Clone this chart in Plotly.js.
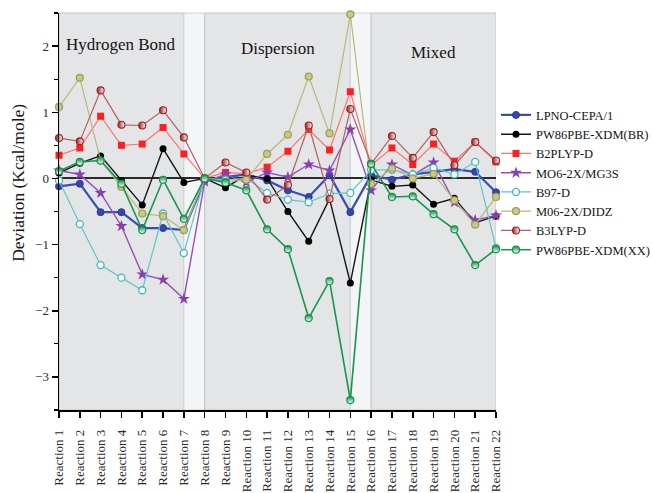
<!DOCTYPE html>
<html>
<head>
<meta charset="utf-8">
<script src="https://cdn.plot.ly/plotly-3.0.1.min.js"></script>
<style>
  html, body { margin: 0; padding: 0; background: #ffffff; }
  #chart { width: 653px; height: 493px; }
</style>
</head>
<body>
<div id="chart"></div>
<script>
// Reaction labels along the x axis
const reactions = [
  'Reaction 1', 'Reaction 2', 'Reaction 3', 'Reaction 4', 'Reaction 5', 'Reaction 6',
  'Reaction 7', 'Reaction 8', 'Reaction 9', 'Reaction 10', 'Reaction 11', 'Reaction 12',
  'Reaction 13', 'Reaction 14', 'Reaction 15', 'Reaction 16', 'Reaction 17', 'Reaction 18',
  'Reaction 19', 'Reaction 20', 'Reaction 21', 'Reaction 22'
];

// Deviations (kcal/mol) for each method
const lpnoCepa = [-0.12, -0.08, -0.51, -0.51, -0.75, -0.75, -0.78, -0.03, 0.02, 0.06, -0.03,
  -0.18, -0.28, 0.05, -0.51, 0.05, -0.02, 0.06, 0.10, 0.14, 0.10, -0.21];
const pw86Br = [0.08, 0.23, 0.34, -0.03, -0.40, 0.45, -0.06, 0.00, -0.14, 0.05, 0.00,
  -0.50, -0.95, -0.31, -1.58, -0.02, -0.12, -0.10, -0.39, -0.30, -0.67, -0.57];
const b2plypD = [0.35, 0.46, 0.94, 0.50, 0.52, 0.77, 0.37, 0.00, 0.09, 0.07, 0.17,
  0.41, 0.74, 0.43, 1.31, 0.20, 0.46, 0.21, 0.52, 0.26, 0.55, 0.25];
const m062xMg3s = [0.12, 0.06, -0.22, -0.72, -1.45, -1.53, -1.82, -0.05, 0.06, -0.06, 0.09,
  0.02, 0.21, 0.12, 0.74, -0.18, 0.21, 0.05, 0.24, -0.36, -0.63, -0.56];
const b97D = [-0.03, -0.69, -1.31, -1.50, -1.69, -0.53, -1.13, 0.00, -0.02, 0.00, -0.22,
  -0.32, -0.36, -0.23, -0.22, 0.13, 0.13, 0.06, 0.16, 0.06, 0.25, -1.05];
const m062xDidz = [1.08, 1.52, 0.27, -0.13, -0.53, -0.57, -0.78, 0.00, -0.05, -0.02, 0.37,
  0.66, 1.54, 0.68, 2.48, -0.08, 0.15, 0.00, 0.07, -0.33, -0.70, -0.28];
const b3lypD = [0.61, 0.56, 1.33, 0.81, 0.80, 1.03, 0.62, 0.00, 0.24, 0.09, -0.32,
  -0.10, 0.80, -0.31, 1.05, 0.22, 0.64, 0.31, 0.70, 0.20, 0.55, 0.27];
const pw86Xx = [0.11, 0.25, 0.27, -0.08, -0.78, -0.02, -0.61, 0.00, -0.06, -0.18, -0.77,
  -1.07, -2.11, -1.55, -3.35, 0.22, -0.28, -0.27, -0.54, -0.77, -1.31, -1.07];

// Interaction groups: name, first and last reaction
const groupNames = ['Hydrogen Bond', 'Dispersion', 'Mixed'];
const groupFirst = ['Reaction 1', 'Reaction 8', 'Reaction 16'];
const groupLast = ['Reaction 7', 'Reaction 15', 'Reaction 22'];

const serif = '"Liberation Serif", "Times New Roman", serif';

function series(name, y, color, lineColor, lineWidth, marker) {
  return {
    type: 'scatter', mode: 'lines+markers', name: name,
    x: reactions, y: y, cliponaxis: false,
    line: { color: lineColor || color, width: lineWidth },
    marker: Object.assign({ color: color, size: 7 }, marker || {})
  };
}

const traces = [
  series('LPNO-CEPA/1', lpnoCepa, '#3446b2', '#3a4db8', 2.2,
    { symbol: 'circle', size: 7, line: { color: '#2a3a9a', width: 1 } }),
  series('PW86PBE-XDM(BR)', pw86Br, '#000000', '#151515', 1.4,
    { symbol: 'circle', size: 7 }),
  series('B2PLYP-D', b2plypD, '#ff1f1f', '#ff7272', 1.2,
    { symbol: 'square', size: 7 }),
  series('MO6-2X/MG3S', m062xMg3s, '#8a3fb0', '#9550b8', 1.4,
    { symbol: 'star', size: 9 }),
  series('B97-D', b97D, '#ffffff', '#5ec6cc', 1.2,
    { symbol: 'circle', size: 7, line: { color: '#3fb8be', width: 1.3 } }),
  series('M06-2X/DIDZ', m062xDidz, '#c8c888', '#b9b978', 1.2,
    { symbol: 'circle', size: 7, line: { color: '#9c9c52', width: 1.2 } }),
  series('B3LYP-D', b3lypD, '#9a1f1f', '#b56060', 1.2,
    { symbol: 'circle', size: 7, gradient: { type: 'horizontal', color: '#ffffff' },
      line: { color: '#9a1f1f', width: 1.1 } }),
  series('PW86PBE-XDM(XX)', pw86Xx, '#14904a', '#17964e', 1.6,
    { symbol: 'circle', size: 7, gradient: { type: 'vertical', color: '#ffffff' },
      line: { color: '#14904a', width: 1.2 } })
];

// Shaded group boxes and the light strips between them
const shapes = [];
const annotations = [];
const labelY = [2.02, 1.97, 1.91];
groupNames.forEach(function (g, i) {
  const a = reactions.indexOf(groupFirst[i]);
  const b = reactions.indexOf(groupLast[i]);
  shapes.push({
    type: 'rect', xref: 'x', yref: 'paper', x0: a, x1: b, y0: 0, y1: 1,
    fillcolor: '#e3e5e6', line: { color: '#c3c5c6', width: 1 }, layer: 'below'
  });
  if (i < groupNames.length - 1) {
    const c = reactions.indexOf(groupFirst[i + 1]);
    shapes.push({
      type: 'rect', xref: 'x', yref: 'paper', x0: b, x1: c, y0: 0, y1: 1,
      fillcolor: '#f4f5f6', line: { color: '#d0d2d3', width: 1 }, layer: 'below'
    });
  }
  annotations.push({
    xref: 'x', yref: 'y', x: (a + b) / 2, y: labelY[i], text: g, showarrow: false,
    font: { family: serif, size: 17, color: '#141414' }
  });
});

// Vertical axis title, set a little above the middle of the axis
annotations.push({
  xref: 'paper', yref: 'paper', x: -0.094, y: 0.572, xanchor: 'center', yanchor: 'middle',
  text: 'Deviation (Kcal/mole)', textangle: -90, showarrow: false,
  font: { family: serif, size: 17.5, color: '#141414' }
});

const layout = {
  width: 653, height: 493,
  margin: { l: 59, r: 157, t: 13, b: 83, autoexpand: false },
  paper_bgcolor: '#ffffff', plot_bgcolor: '#ffffff',
  showlegend: true,
  legend: {
    x: 1.0, xanchor: 'left', y: 0.78, yanchor: 'top',
    bgcolor: 'rgba(0,0,0,0)', borderwidth: 0,
    font: { family: serif, size: 12.5, color: '#141414' },
    tracegroupgap: 0
  },
  xaxis: {
    type: 'category', range: [0, reactions.length - 1],
    showgrid: false, zeroline: false,
    showline: true, linecolor: '#000000', linewidth: 1.5,
    ticks: 'outside', ticklen: 6, tickwidth: 1.5, tickcolor: '#000000',
    dtick: 1, tickangle: -90, ticklabelstandoff: 7,
    tickfont: { family: serif, size: 13, color: '#2a2a2a' }
  },
  yaxis: {
    range: [-3.5, 2.5], dtick: 1, tick0: 0,
    showgrid: false,
    zeroline: true, zerolinecolor: '#2a2a2a', zerolinewidth: 2,
    showline: true, linecolor: '#000000', linewidth: 1.5,
    ticks: 'outside', ticklen: 6, tickwidth: 1.5, tickcolor: '#000000',
    minor: { dtick: 0.5, ticks: 'outside', ticklen: 4, tickwidth: 1.2, tickcolor: '#000000' },
    tickfont: { family: serif, size: 13, color: '#2a2a2a' }
  },
  shapes: shapes,
  annotations: annotations
};

Plotly.newPlot('chart', traces, layout, { displayModeBar: false, staticPlot: true });
</script>
</body>
</html>
